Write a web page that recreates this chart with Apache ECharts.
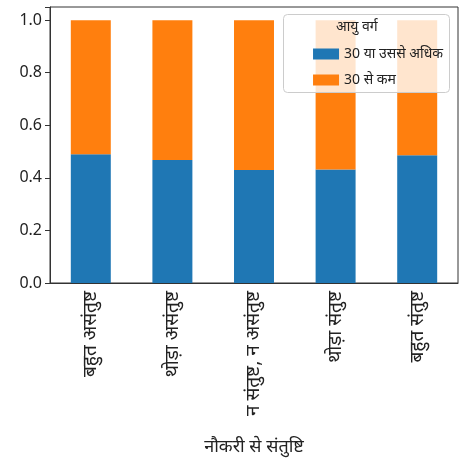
<!DOCTYPE html>
<html><head><meta charset="utf-8">
<script src="https://cdn.jsdelivr.net/npm/echarts@6/dist/echarts.min.js"></script>
<style>html,body{margin:0;padding:0;background:#fff}#c{width:476px;height:466px}</style>
</head><body><div id="c"></div>
<script>
const categories = ['बहुत असंतुष्ट', 'थोड़ा असंतुष्ट', 'न संतुष्ट, न असंतुष्ट', 'थोड़ा संतुष्ट', 'बहुत संतुष्ट'];
const olderShare = [0.490, 0.468, 0.430, 0.432, 0.486];
const youngerShare = [0.510, 0.532, 0.570, 0.568, 0.514];
const seriesNames = ['30 या उससे अधिक', '30 से कम'];
const font = 'Noto Sans, DejaVu Sans, sans-serif';
const chart = echarts.init(document.getElementById('c'));
chart.setOption({
  animation: false,
  textStyle: {fontFamily: font},
  grid: {left: 50, right: 18, top: 7, bottom: 183, show: true, borderColor: '#333', borderWidth: 1, backgroundColor: 'transparent'},
  legend: {
    z: 300, zlevel: 1,
    data: seriesNames, orient: 'vertical', right: 28, top: 42, itemWidth: 26, itemHeight: 11, itemGap: 12,
    textStyle: {fontSize: 14, color: '#222', fontFamily: font}, icon: 'rect'
  },
  graphic: [
    {type: 'rect', right: 26, top: 14, shape: {width: 166, height: 78, r: 4}, style: {fill: 'rgba(255,255,255,0.8)', stroke: '#ccc'}, z: 100},
    {type: 'text', left: 336, top: 20, style: {text: 'आयु वर्ग', fontSize: 14, fill: '#222', fontFamily: font}, z: 101}
  ],
  xAxis: {
    type: 'category', data: categories, name: 'नौकरी से संतुष्टि', nameLocation: 'middle', nameGap: 155,
    nameTextStyle: {fontSize: 18, color: '#222'},
    axisLine: {lineStyle: {color: '#333'}}, axisTick: {alignWithLabel: true, lineStyle: {color: '#333'}},
    axisLabel: {rotate: 90, fontSize: 19, color: '#222', interval: 0}
  },
  yAxis: {
    type: 'value', min: 0, max: 1.05, interval: 0.2, splitLine: {show: false},
    axisLine: {show: true, lineStyle: {color: '#333'}}, axisTick: {show: true, lineStyle: {color: '#333'}},
    axisLabel: {fontSize: 16, color: '#222', formatter: v => v > 1.001 ? '' : v.toFixed(1)}
  },
  series: [
    {name: seriesNames[0], type: 'bar', stack: 's', data: olderShare, barWidth: '49%', itemStyle: {color: '#1f77b4'}},
    {name: seriesNames[1], type: 'bar', stack: 's', data: youngerShare, itemStyle: {color: '#ff7f0e'}}
  ]
});
</script></body></html>
